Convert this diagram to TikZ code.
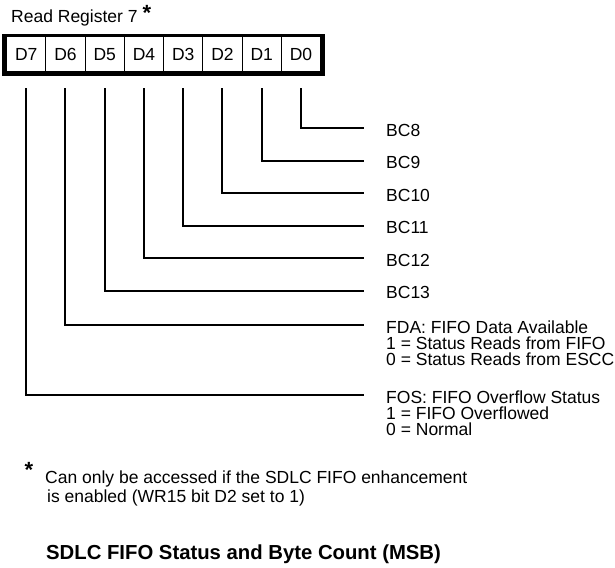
\documentclass[tikz,border=0pt]{standalone}
\usepackage{fontspec}
\setmainfont{Liberation Sans}
\usetikzlibrary{positioning}
\tikzset{
  bitcell/.style = {draw,fill=white,line width=1.2pt,minimum width=39.25pt,
                    minimum height=35pt,inner sep=0pt,anchor=north west},
  bitline/.style = {line width=2pt},
  desc/.style    = {anchor=base west,inner sep=0pt,align=left}
}

\begin{document}
\begin{tikzpicture}[x=1pt,y=-1pt,font=\fontsize{17.5}{16}\selectfont]
  \useasboundingbox (0,0) rectangle (615,567);
  % register heading
  \node[anchor=base west,inner sep=0pt] (hdr) at (11,23) {Read Register 7};
  \node[inner sep=0pt,font=\fontsize{22}{22}\selectfont\bfseries] (hdrstar) at (147,13) {*};
  % the register: heavy frame, then the eight bit cells
  \fill (2,34) rectangle (325,76);
  \foreach \b [count=\i from 0] in {7,6,5,4,3,2,1,0}
    \node[bitcell] (d\b) at (6+\i*39.25,36) {D\b};
  % where each bit line ends
  \foreach \b/\y in {0/128,1/160.5,2/193,3/225.5,4/258,5/290.5,6/325,7/395}
    \coordinate (e\b) at (364,\y);
  \foreach \b in {0,...,7}
    \draw[bitline] ([yshift=-16pt]d\b.south) |- (e\b);
  % bit descriptions (base of a three-line node is its last line)
  \node[desc] (bc8)  at ([shift={(22,8)}]e0) {BC8};
  \node[desc] (bc9)  at ([shift={(22,8)}]e1) {BC9};
  \node[desc] (bc10) at ([shift={(22,8)}]e2) {BC10};
  \node[desc] (bc11) at ([shift={(22,8)}]e3) {BC11};
  \node[desc] (bc12) at ([shift={(22,8)}]e4) {BC12};
  \node[desc] (bc13) at ([shift={(22,8)}]e5) {BC13};
  \node[desc] (fda)  at ([shift={(22,40)}]e6)
    {FDA: FIFO Data Available\\1 = Status Reads from FIFO\\0 = Status Reads from ESCC};
  \node[desc] (fos)  at ([shift={(22,40)}]e7)
    {FOS: FIFO Overflow Status\\1 = FIFO Overflowed\\0 = Normal};
  % footnote and caption
  \node[inner sep=0pt,font=\fontsize{22}{22}\selectfont\bfseries] (notestar) at (29,470) {*};
  \node[desc,font=\fontsize{17.5}{19.5}\selectfont] (note) at (45,502.5)
    {Can only be accessed if the SDLC FIFO enhancement\\\hspace{2pt}is enabled (WR15 bit D2 set to 1)};
  \node[anchor=base west,inner sep=0pt,font=\fontsize{20.3}{22}\selectfont\bfseries] (title) at (46,559)
    {SDLC FIFO Status and Byte Count (MSB)};
\end{tikzpicture}
\end{document}
